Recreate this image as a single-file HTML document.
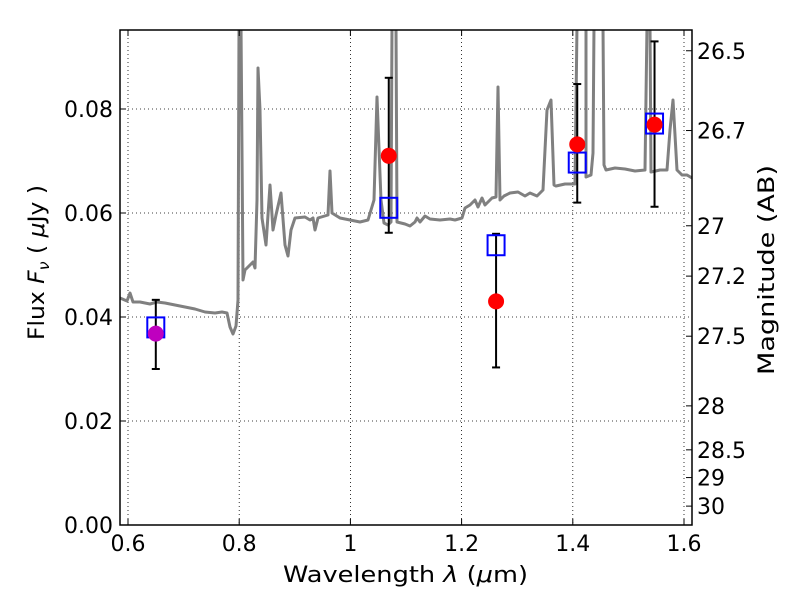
<!DOCTYPE html>
<html><head><meta charset="utf-8"><style>
html,body{margin:0;padding:0;background:#fff;}
svg text{font-family:"DejaVu Sans","Liberation Sans",sans-serif;}
</style></head><body>
<svg id="chart" width="800" height="600" xmlns="http://www.w3.org/2000/svg">
<rect width="800" height="600" fill="#fff"/>
<g id="grid"></g>
<g id="spec"></g>
<g id="pts"></g>
<rect x="120" y="30" width="572" height="495" fill="none" stroke="#000" stroke-width="1.5"/>
<g id="axes"></g>
<text x="283" y="582" font-size="22" textLength="245" lengthAdjust="spacingAndGlyphs">Wavelength  <tspan font-style="italic">λ</tspan> (<tspan font-style="italic">μ</tspan>m)</text>
<text transform="translate(44,340) rotate(-90)" font-size="22" textLength="155" lengthAdjust="spacingAndGlyphs">Flux  <tspan font-style="italic">F<tspan font-size="15" dy="5">ν</tspan></tspan><tspan dy="-5">  ( </tspan><tspan font-style="italic">μ</tspan>Jy )</text>
<text transform="translate(774,375) rotate(-90)" font-size="22" textLength="210" lengthAdjust="spacingAndGlyphs">Magnitude (AB)</text>
</svg>
<script>
const xTicks=[0.6,0.8,1.0,1.2,1.4,1.6];
const xTickLabels=["0.6","0.8","1","1.2","1.4","1.6"];
const yTicks=[0,0.02,0.04,0.06,0.08];
const yTickLabels=["0.00","0.02","0.04","0.06","0.08"];
const magTicks=[26.5,26.7,27,27.2,27.5,28,28.5,29,30];
const magTickLabels=["26.5","26.7","27","27.2","27.5","28","28.5","29","30"];
const obsWave=[0.65,1.069,1.262,1.408,1.547];
const obsFlux=[0.0368,0.0710,0.0430,0.0732,0.0770];
const obsErrLo=[0.0300,0.0562,0.0303,0.0620,0.0612];
const obsErrHi=[0.0433,0.0860,0.0560,0.0848,0.0930];
const modelFlux=[0.0380,0.0610,0.0538,0.0697,0.0772];
const obsColor=["#bf00bf","red","red","red","red"];
const specPx=[[120,298],[127,301],[130,293],[133,302],[140,302],[150,304],[157,302],[165,303],[175,305],[185,307],[195,309],[205,312],[215,313],[222,312],[227,313],[230,327],[233,334],[236,326],[238,300],[239,25],[241,25],[243,280],[245,270],[250,265],[253,262],[255,268],[257,200],[258,68],[260,110],[262,218],[266,245],[270,185],[273,230],[276,215],[281,193],[285,245],[288,256],[291,230],[295,218],[305,217],[310,220],[313,218],[315,230],[318,218],[328,215],[330,171],[332,213],[340,218],[350,220],[360,222],[368,220],[374,200],[377,97],[381,200],[384,223],[388,225],[391,222],[392,25],[396,25],[397,222],[405,224],[410,226],[415,222],[417,218],[420,222],[425,216],[430,219],[440,220],[450,219],[455,220],[462,218],[465,208],[470,205],[475,200],[478,207],[482,198],[485,205],[492,198],[496,197],[498,87],[500,200],[504,196],[510,193],[518,192],[525,196],[530,193],[537,196],[543,190],[547,110],[551,100],[554,185],[556,186],[565,184],[575,184],[577,25],[586,25],[586,177],[591,175],[593,153],[594,25],[603,25],[604,165],[606,170],[615,168],[625,169],[635,171],[645,170],[647,25],[650,25],[651,172],[660,170],[667,170],[670,130],[673,100],[677,170],[682,175],[687,175],[692,178]];
const specWave=specPx.map(p=>0.6+(p[0]-128)/556);
const specFlux=specPx.map(p=>(525-p[1])/5200);

const X=w=>128+(w-0.6)*556;
const Y=f=>525-f*5200;
const NS="http://www.w3.org/2000/svg";
function mk(tag,attrs,parent){const e=document.createElementNS(NS,tag);for(const k in attrs)e.setAttribute(k,attrs[k]);parent.appendChild(e);return e;}
const grid=document.getElementById('grid'),axes=document.getElementById('axes'),spec=document.getElementById('spec'),pts=document.getElementById('pts');

xTicks.forEach((t,i)=>{const x=X(t);
 const g=mk('line',{x1:x,x2:x,y1:30,y2:525,stroke:'#000','stroke-width':0.8,'stroke-dasharray':'1,3'},grid);
 
 mk('line',{x1:x,x2:x,y1:525,y2:519,stroke:'#000'},axes);mk('line',{x1:x,x2:x,y1:30,y2:36,stroke:'#000'},axes);
 const tx=mk('text',{x:x,y:551,'font-size':22,'text-anchor':'middle'},axes);tx.textContent=xTickLabels[i];
 });
yTicks.forEach((t,i)=>{const y=Y(t);
 const g=mk('line',{x1:120,x2:692,y1:y,y2:y,stroke:'#000','stroke-width':0.8,'stroke-dasharray':'1,3'},grid);
 
 mk('line',{x1:120,x2:126,y1:y,y2:y,stroke:'#000'},axes);
 const tx=mk('text',{x:113,y:y+8,'font-size':22,'text-anchor':'end'},axes);tx.textContent=yTickLabels[i];
 });
magTicks.forEach((m,i)=>{const y=Y(Math.pow(10,(23.9-m)/2.5));
 mk('line',{x1:686,x2:692,y1:y,y2:y,stroke:'#000'},axes);
 const tx=mk('text',{x:697,y:y+8,'font-size':22},axes);tx.textContent=magTickLabels[i];
 });

const d=specWave.map((w,i)=>(i?'L':'M')+X(w).toFixed(1)+','+Math.max(25,Y(specFlux[i])).toFixed(1)).join('');
const cp=mk('clipPath',{id:'clip'},spec);mk('rect',{x:120,y:30,width:572,height:495},cp);
const sp=mk('path',{d:d,fill:'none',stroke:'#808080','stroke-width':3,'stroke-linejoin':'round','clip-path':'url(#clip)'},spec);


obsWave.forEach((w,i)=>{const x=X(w);
 const g=mk('g',{},pts);
 const yl=Y(obsErrLo[i]),yh=Y(obsErrHi[i]);
 mk('line',{x1:x,x2:x,y1:yl,y2:yh,stroke:'#000','stroke-width':2},g);
 mk('line',{x1:x-4,x2:x+4,y1:yl,y2:yl,stroke:'#000','stroke-width':2},g);
 mk('line',{x1:x-4,x2:x+4,y1:yh,y2:yh,stroke:'#000','stroke-width':2},g);
 const ym=Y(modelFlux[i]);
 const b=mk('rect',{x:x-8.5,y:ym-10,width:17,height:20,fill:'none',stroke:'blue','stroke-width':2},g);
 
 const c=mk('circle',{cx:x,cy:Y(obsFlux[i]),r:8,fill:obsColor[i]},g);
 });
</script>
</body></html>
